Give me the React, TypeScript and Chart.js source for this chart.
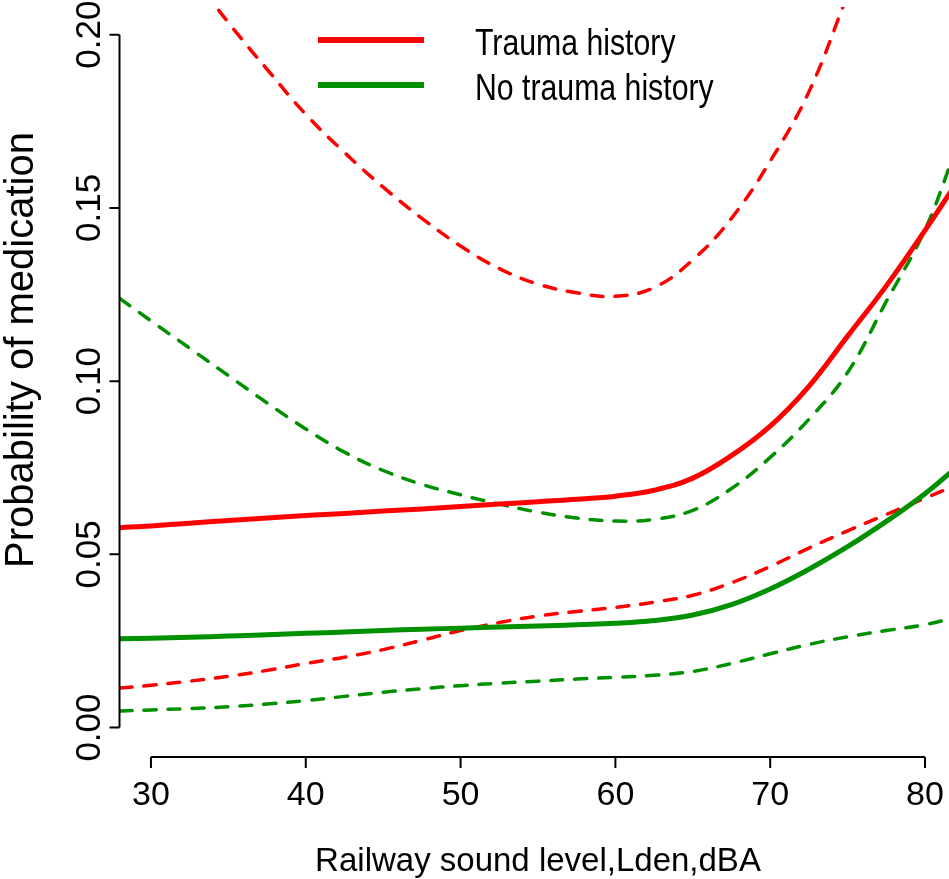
import React, { useEffect, useRef } from "react";
import { Chart, registerables } from "chart.js";

Chart.register(...registerables);

// Railway sound level (Lden, dBA) grid on which the curves were read
const xLevels = [28, 30, 32.5, 35, 37.5, 40, 42.5, 45, 47.5, 50, 52.5, 55, 57.5, 60, 62.5, 65, 67.5, 70, 72.5, 75, 77.5, 80, 82];

// Trauma history: fitted probability and confidence band
const traumaFit = [0.0577, 0.0582, 0.059, 0.0598, 0.0605, 0.0612, 0.0618, 0.0625, 0.0631, 0.0638, 0.0645, 0.0652, 0.0659, 0.0668, 0.0685, 0.072, 0.0785, 0.087, 0.0985, 0.113, 0.1275, 0.1435, 0.157];
const traumaUpper = [null, null, 0.218, 0.2035, 0.19, 0.177, 0.166, 0.156, 0.147, 0.139, 0.1325, 0.128, 0.1255, 0.1245, 0.127, 0.135, 0.147, 0.1635, 0.1835, 0.2115, null, null, null];
const traumaLower = [0.0114, 0.0122, 0.0134, 0.0148, 0.0165, 0.0185, 0.0203, 0.0225, 0.0252, 0.028, 0.0303, 0.0322, 0.0335, 0.0347, 0.0362, 0.0382, 0.0418, 0.0465, 0.0518, 0.0568, 0.0615, 0.0662, 0.07];

// No trauma history: fitted probability and confidence band
const noTraumaFit = [0.0256, 0.0258, 0.0261, 0.0264, 0.0268, 0.0272, 0.0276, 0.028, 0.0284, 0.0287, 0.029, 0.0293, 0.0297, 0.0301, 0.0309, 0.0325, 0.0355, 0.04, 0.0457, 0.0522, 0.0595, 0.0675, 0.075];
const noTraumaUpper = [0.1238, 0.1174, 0.1095, 0.1016, 0.0937, 0.0862, 0.0795, 0.0742, 0.0702, 0.0672, 0.0645, 0.0622, 0.0605, 0.0596, 0.0601, 0.0627, 0.069, 0.078, 0.089, 0.1025, 0.123, 0.1437, 0.167];
const noTraumaLower = [0.0048, 0.0051, 0.0055, 0.006, 0.0068, 0.0078, 0.009, 0.0102, 0.0112, 0.0121, 0.0128, 0.0134, 0.014, 0.0145, 0.0151, 0.0162, 0.0185, 0.0213, 0.024, 0.0262, 0.028, 0.0297, 0.0318];

const xTicks = [30, 40, 50, 60, 70, 80];
const yTicks = [0, 0.05, 0.1, 0.15, 0.2];
const yTickLabels = ["0.00", "0.05", "0.10", "0.15", "0.20"];
const legendLabels = ["Trauma history", "No trauma history"];
const xTitle = "Railway sound level,Lden,dBA";
const yTitle = "Probability of medication";

const RED = "#ff0000";
const GREEN = "#009000";
const FONT = "'Liberation Sans', Arial, Helvetica, sans-serif";

export default function App() {
  const ref = useRef<HTMLCanvasElement>(null);

  useEffect(() => {
    const canvas = ref.current;
    if (!canvas) return;

    const mk = (label: string, values: (number | null)[], color: string, width: number, dashed: boolean) => ({
      label,
      data: xLevels.map((x, i) => ({ x, y: values[i] })),
      borderColor: color,
      backgroundColor: color,
      borderWidth: width,
      borderDash: dashed ? [12, 12] : [],
      borderCapStyle: "round" as const,
      borderJoinStyle: "round" as const,
      pointRadius: 0,
      fill: false,
      spanGaps: false,
      tension: 0.4,
    });

    const axesPlugin = {
      id: "rAxes",
      afterDraw(chart: any) {
        const { ctx, chartArea } = chart;
        const xs = chart.scales.x;
        const ys = chart.scales.y;
        ctx.save();
        ctx.strokeStyle = "#000";
        ctx.fillStyle = "#000";
        ctx.lineWidth = 2;
        ctx.lineCap = "butt";
        ctx.setLineDash([]);

        // Y axis
        const ax = chartArea.left - 0.5;
        ctx.beginPath();
        ctx.moveTo(ax, ys.getPixelForValue(yTicks[0]));
        ctx.lineTo(ax, ys.getPixelForValue(yTicks[yTicks.length - 1]));
        yTicks.forEach((t) => {
          const py = ys.getPixelForValue(t);
          ctx.moveTo(ax, py);
          ctx.lineTo(ax - 10, py);
        });
        ctx.stroke();
        ctx.font = `35px ${FONT}`;
        ctx.textAlign = "center";
        ctx.textBaseline = "alphabetic";
        yTicks.forEach((t, i) => {
          const py = ys.getPixelForValue(t);
          ctx.save();
          ctx.translate(100, py);
          ctx.rotate(-Math.PI / 2);
          ctx.fillText(yTickLabels[i], 0, 0);
          ctx.restore();
        });

        // X axis
        const ay = chartArea.bottom;
        ctx.beginPath();
        ctx.moveTo(xs.getPixelForValue(xTicks[0]), ay);
        ctx.lineTo(xs.getPixelForValue(xTicks[xTicks.length - 1]), ay);
        xTicks.forEach((t) => {
          const px = xs.getPixelForValue(t);
          ctx.moveTo(px, ay);
          ctx.lineTo(px, ay + 11);
        });
        ctx.stroke();
        ctx.font = `34px ${FONT}`;
        xTicks.forEach((t) => {
          ctx.fillText(String(t), xs.getPixelForValue(t), 805);
        });

        // Titles
        ctx.font = `33px ${FONT}`;
        ctx.fillText(xTitle, 538, 871);
        ctx.save();
        ctx.translate(33, 350);
        ctx.rotate(-Math.PI / 2);
        ctx.font = `40px ${FONT}`;
        ctx.fillText(yTitle, 0, 0);
        ctx.restore();

        // Legend
        const legendColors = [RED, GREEN];
        const lineYs = [40, 85];
        const textYs = [55, 100];
        legendLabels.forEach((lab, i) => {
          ctx.strokeStyle = legendColors[i];
          ctx.lineWidth = 6;
          ctx.beginPath();
          ctx.moveTo(318, lineYs[i]);
          ctx.lineTo(424, lineYs[i]);
          ctx.stroke();
          ctx.save();
          ctx.translate(475, textYs[i]);
          ctx.scale(0.84, 1);
          ctx.font = `36px ${FONT}`;
          ctx.textAlign = "left";
          ctx.fillStyle = "#000";
          ctx.fillText(lab, 0, 0);
          ctx.restore();
        });
        ctx.restore();
      },
    };

    const chart = new Chart(canvas, {
      type: "line",
      data: {
        datasets: [
          mk("Trauma history", traumaFit, RED, 5, false),
          mk("No trauma history", noTraumaFit, GREEN, 5, false),
          mk("Trauma history upper", traumaUpper, RED, 3.5, true),
          mk("Trauma history lower", traumaLower, RED, 3.5, true),
          mk("No trauma history upper", noTraumaUpper, GREEN, 3.5, true),
          mk("No trauma history lower", noTraumaLower, GREEN, 3.5, true),
        ] as any,
      },
      options: {
        animation: false,
        responsive: false,
        devicePixelRatio: 1,
        layout: { padding: { left: 120, right: 0, top: 7, bottom: 122 } },
        plugins: { legend: { display: false }, tooltip: { enabled: false } },
        scales: {
          x: { type: "linear", min: 28, max: 81.55, display: false },
          y: { type: "linear", min: -0.0085, max: 0.208, display: false },
        },
      },
      plugins: [axesPlugin],
    });
    return () => chart.destroy();
  }, []);

  return (
    <div style={{ position: "absolute", left: 0, top: 0, width: 949, height: 879, background: "#fff" }}>
      <canvas ref={ref} width={949} height={879} style={{ width: 949, height: 879, display: "block" }} />
    </div>
  );
}
